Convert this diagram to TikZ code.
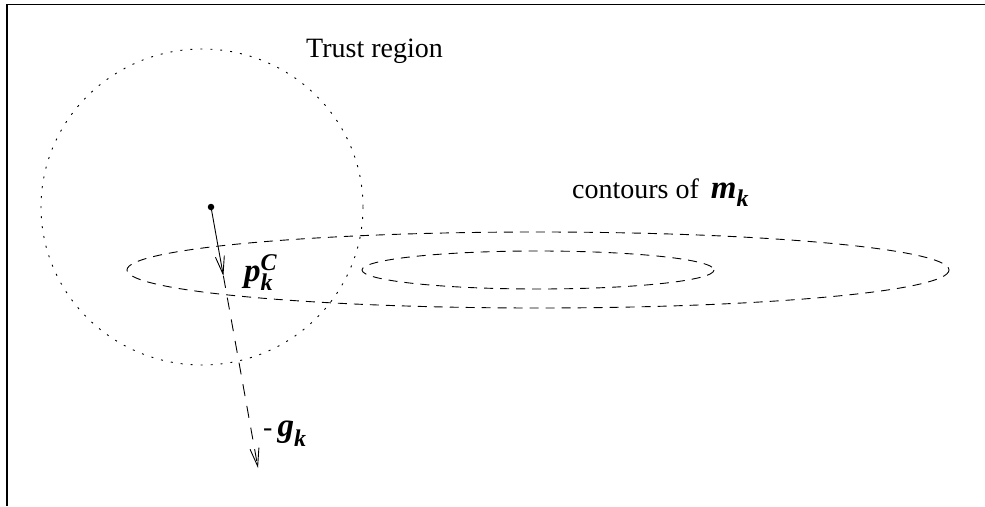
\documentclass[tikz,border=0pt]{standalone}
\usepackage{fontspec}
\setmainfont{Liberation Serif}
\usetikzlibrary{arrows.meta}
\tikzset{
  lbl/.style={inner sep=0pt, anchor=base west, font=\fontsize{28}{30}\selectfont},
  thin line/.style={line width=0.9pt},
  tr dots/.style={thin line, dash pattern=on 2pt off 8pt},
  cont dash/.style={thin line, dash pattern=on 9pt off 7pt},
  arr/.style={thin line, -{Straight Barb[length=18pt,width=9pt,line width=0.9pt]}},
  arr dash/.style={arr, dash pattern=on 12pt off 10pt},
  dotnode/.style={circle, fill=black, inner sep=0pt, minimum size=6.5pt},
}
\newcommand{\bi}[1]{{\fontsize{33}{34}\selectfont\textbf{\textit{#1}}}}
\newcommand{\bis}[1]{{\fontsize{24}{25}\selectfont\textbf{\textit{#1}}}}
\begin{document}
\begin{tikzpicture}[x=1pt,y=-1pt]
\useasboundingbox (0,0) rectangle (985,506);
% frame
\draw[line width=1.5pt] (985,4.5) -- (7,4.5) -- (7,506);
% trust region
\draw[tr dots] (202,207) ellipse [x radius=161, y radius=158];
% contours
\draw[cont dash] (538,270) ellipse [x radius=411, y radius=38];
\draw[cont dash] (538,270) ellipse [x radius=176, y radius=19];
% point and steps
\node[dotnode] (x) at (211,207) {};
\coordinate (pc) at (223.4,276);
\coordinate (g) at (258,468);
\draw[arr] (x.center) -- (pc);
\draw[arr dash] (pc) -- (g);
% labels
\node[lbl] (trl) at (306,57.7) {Trust region};
\node[lbl] (mkl) at (572,198) {contours of\hspace{12pt}\bi{m}\raisebox{-8pt}{\bis{k}}};
\node[lbl] (pcl) at (244,281) {\bi{p}\rlap{\raisebox{11pt}{\bis{C}}}\raisebox{-9pt}{\bis{k}}};
\node[lbl] (gl) at (263,436) {-\hspace{5pt}\bi{g}\raisebox{-10pt}{\bis{k}}};
\end{tikzpicture}
\end{document}
